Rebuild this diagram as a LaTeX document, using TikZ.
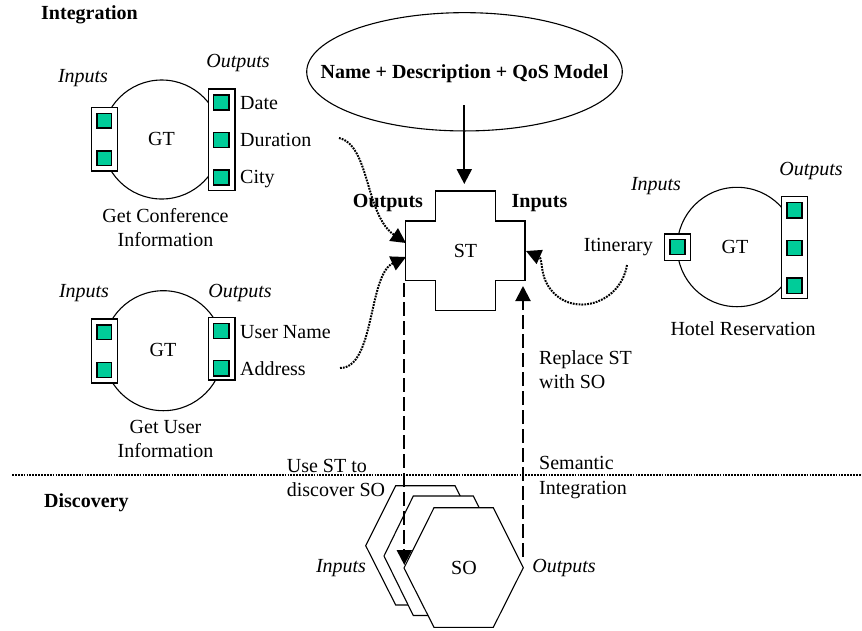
\documentclass[tikz,border=0pt]{standalone}
\usepackage{fontspec}
\setmainfont{Liberation Serif}
\usetikzlibrary{arrows.meta,shapes.geometric}
\definecolor{portgreen}{RGB}{0,204,153}
\tikzset{
  x=1pt,y=-1pt,
  lbl/.style={inner sep=0pt,font=\fontsize{20}{24.5}\selectfont,align=center},
  ital/.style={lbl,font=\fontsize{20}{24.5}\selectfont\itshape},
  bld/.style={lbl,font=\fontsize{20}{24.5}\selectfont\bfseries},
  gtcircle/.style={draw=black,line width=1.1pt},
  portrect/.style={draw=black,fill=white,line width=1.3pt},
  port/.style={draw=black,fill=portgreen,line width=1.3pt},
  shape line/.style={draw=black,fill=white,line width=1.1pt},
  headtip/.style={-{Triangle[length=15pt,width=15pt]}},
  solidarrow/.style={headtip,line width=2.2pt},
  dottedarrow/.style={headtip,line width=2pt,dash pattern=on 1.8pt off 1.1pt},
  dashedarrow/.style={headtip,line width=2pt,dash pattern=on 14pt off 5pt},
  divider/.style={line width=1.8pt,dash pattern=on 1.8pt off 1.1pt},
}
\newcommand{\portbox}[5]{\path[#1] (#2,#3) rectangle (#4,#5);}
\begin{document}
\begin{tikzpicture}
\useasboundingbox (0,0) rectangle (862,630);
\fill[white] (0,0) rectangle (862,630);

% section labels
\node[bld,anchor=west] (integ) at (41,15) {Integration};
\node[bld,anchor=west] (disc) at (44,503) {Discovery};

% divider
\coordinate (divL) at (12,475);
\coordinate (divR) at (862,475);
\draw[divider] (divL) -- (divR);

% Get Conference Information
\node[gtcircle,circle,minimum size=119pt,inner sep=0pt] (gt1) at (161.7,139.5) {};
\portbox{portrect}{91.7}{107.7}{117.7}{171}
\portbox{portrect}{208.3}{89}{235}{190.7}
\portbox{port}{97}{113.3}{111.7}{128}
\portbox{port}{97}{151}{111.7}{165.7}
\portbox{port}{213.7}{95}{229}{110}
\portbox{port}{213.7}{132.3}{229}{147.3}
\portbox{port}{213.7}{170}{229}{185}
\node[lbl] (gt1t) at (161.5,138.5) {GT};
\node[ital] at (83,78.5) {Inputs};
\node[ital] at (238,63) {Outputs};
\node[lbl,anchor=west] (date) at (240,103) {Date};
\node[lbl,anchor=west] (dur) at (240,140) {Duration};
\node[lbl,anchor=west] (city) at (240,179) {City};
\node[lbl] at (165.5,227.5) {Get Conference\\Information};

% Get User Information
\node[gtcircle,circle,minimum size=120pt,inner sep=0pt] (gt2) at (163.3,350.7) {};
\portbox{portrect}{91.7}{319}{117.7}{383}
\portbox{portrect}{208.3}{317.3}{235}{380}
\portbox{port}{97}{325}{111.7}{339.7}
\portbox{port}{97}{362.7}{111.7}{377.7}
\portbox{port}{213.7}{323.3}{229}{338.3}
\portbox{port}{213.7}{360.7}{229}{376}
\node[lbl] (gt2t) at (163,349.5) {GT};
\node[ital] at (84,293) {Inputs};
\node[ital] at (240,293) {Outputs};
\node[lbl,anchor=west] (uname) at (240,332) {User Name};
\node[lbl,anchor=west] (addr) at (240,369) {Address};
\node[lbl] at (165.5,439) {Get User\\Information};

% Hotel Reservation
\node[gtcircle,circle,minimum size=119.4pt,inner sep=0pt] (gt3) at (737,247) {};
\portbox{portrect}{664.3}{234}{690.7}{260.3}
\portbox{portrect}{781.7}{196.7}{807.7}{298.7}
\portbox{port}{670}{239.3}{685}{254.7}
\portbox{port}{787}{202.7}{802}{218}
\portbox{port}{787}{240.3}{802}{255.3}
\portbox{port}{787}{278}{802}{293.3}
\node[lbl] (gt3t) at (735,246.5) {GT};
\node[ital] at (656,186.5) {Inputs};
\node[ital] at (811,171) {Outputs};
\node[lbl,anchor=east] (itin) at (653,247) {Itinerary};
\node[lbl] at (743,328.5) {Hotel Reservation};

% Ellipse
\node[draw=black,line width=1.1pt,ellipse,minimum width=315.6pt,minimum height=118.3pt,inner sep=0pt] (qos) at (464.5,71.8) {};
\node[bld] (qost) at (464.5,74) {Name + Description + QoS Model};

% Service template
\draw[shape line] (435.7,191) -- (495.7,191) -- (495.7,221) -- (525,221) -- (525,280.3) -- (495.7,280.3) -- (495.7,310.7) -- (435.7,310.7) -- (435.7,280.3) -- (405.3,280.3) -- (405.3,221) -- (435.7,221) -- cycle;
\node[lbl] (st) at (465.5,251) {ST};
\node[bld] at (388,203.5) {Outputs};
\node[bld] at (539.5,203.5) {Inputs};

% SO hexagons
\draw[shape line] (365.7,545.7) -- (395.7,485.7) -- (455,485.7) -- (485,545.7) -- (455,605) -- (395.7,605) -- cycle;
\draw[shape line] (384,556) -- (413.3,496) -- (473.3,496) -- (503.3,556) -- (473.3,615.5) -- (413.3,615.5) -- cycle;
\draw[shape line] (404,568) -- (434,507.7) -- (493.3,507.7) -- (523.3,567.7) -- (493.3,627.3) -- (434,627.3) -- cycle;
\node[lbl] (so) at (464,568) {SO};
\node[ital] at (341,568) {Inputs};
\node[ital] at (564,568) {Outputs};
\node[lbl,align=left] at (336,478) {Use ST to\\discover SO};
\node[lbl,align=left,anchor=west] at (539,477.5) {Semantic\\Integration};
\node[lbl,align=left,anchor=west] at (539,369.5) {Replace ST\\with SO};

% connectors
\coordinate (qosb) at (464.3,105);
\coordinate (stt) at (464.3,184);
\draw[solidarrow] (qosb) -- (stt);
\coordinate (d1) at (339,138);
\coordinate (d1e) at (406,243);
\draw[dottedarrow] (d1) .. controls (370,145) and (365,215) .. (d1e);
\coordinate (d2) at (340,368);
\coordinate (d2e) at (406,257);
\draw[dottedarrow] (d2) .. controls (375,368) and (368,275) .. (d2e);
\coordinate (d3) at (627,265);
\coordinate (d3m) at (546,282);
\coordinate (d3e) at (526,251);
\draw[dottedarrow] (d3) .. controls (620,307) and (565,320) .. (d3m) .. controls (541,272) and (542,258) .. (d3e);
\coordinate (da) at (404.3,283);
\coordinate (dae) at (404.3,565);
\draw[dashedarrow] (da) -- (dae);
\coordinate (ua) at (523,557);
\coordinate (uae) at (523,286);
\draw[dashedarrow] (ua) -- (uae);
\end{tikzpicture}
\end{document}
